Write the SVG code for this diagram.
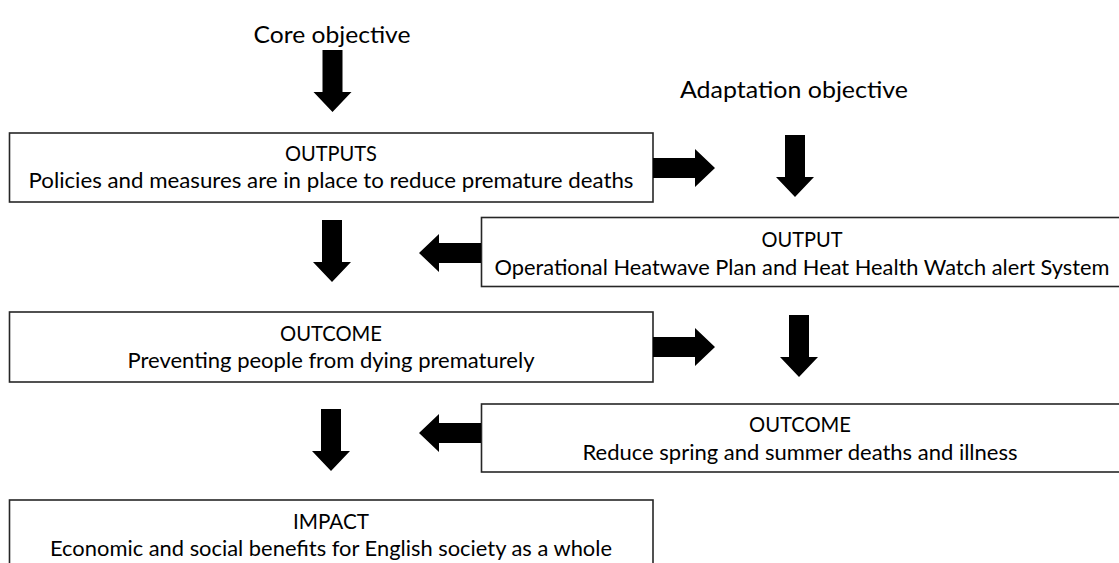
<svg xmlns="http://www.w3.org/2000/svg" xmlns:xlink="http://www.w3.org/1999/xlink" width="1119" height="563" viewBox="0 0 1119 563">
  <style>
    .box { fill: #ffffff; stroke: #262626; stroke-width: 1.6; }
    .title { font-family: Lato, "Liberation Sans", sans-serif; font-size: 24px; fill: #000; text-anchor: middle; }
    .label { font-family: Lato, "Liberation Sans", sans-serif; font-size: 21.5px; fill: #000; text-anchor: middle; }
    .arrow { fill: #000; }
  </style>
  <defs>
    <!-- block arrow pointing down, origin at the middle of the tail -->
    <path id="blockArrow" d="M-10,0 H10 V42 H19 L0,62 L-19,42 H-10 Z"/>
  </defs>

  <rect width="1119" height="563" fill="#ffffff"/>

  <!-- column headings -->
  <g id="core-objective">
    <text class="title" x="332" y="43" textLength="157" lengthAdjust="spacingAndGlyphs">Core objective</text>
  </g>
  <g id="adaptation-objective">
    <text class="title" x="794" y="98" textLength="228" lengthAdjust="spacingAndGlyphs">Adaptation objective</text>
  </g>

  <!-- core column -->
  <g id="outputs">
    <rect class="box" x="9.5" y="133" width="643.5" height="69"/>
    <text class="label" x="331" y="161" textLength="92" lengthAdjust="spacingAndGlyphs">OUTPUTS</text>
    <text class="label" x="331" y="188" textLength="605" lengthAdjust="spacingAndGlyphs">Policies and measures are in place to reduce premature deaths</text>
  </g>
  <g id="outcome-core">
    <rect class="box" x="9.5" y="312" width="643.5" height="70"/>
    <text class="label" x="331" y="341" textLength="102" lengthAdjust="spacingAndGlyphs">OUTCOME</text>
    <text class="label" x="331" y="368" textLength="407" lengthAdjust="spacingAndGlyphs">Preventing people from dying prematurely</text>
  </g>
  <g id="impact">
    <rect class="box" x="9.5" y="500" width="643.5" height="80"/>
    <text class="label" x="331" y="529" textLength="76" lengthAdjust="spacingAndGlyphs">IMPACT</text>
    <text class="label" x="331" y="556" textLength="562" lengthAdjust="spacingAndGlyphs">Economic and social benefits for English society as a whole</text>
  </g>

  <!-- adaptation column -->
  <g id="output-adaptation">
    <rect class="box" x="481.5" y="217.5" width="645" height="69"/>
    <text class="label" x="802" y="247" textLength="81" lengthAdjust="spacingAndGlyphs">OUTPUT</text>
    <text class="label" x="802" y="275" textLength="615" lengthAdjust="spacingAndGlyphs">Operational Heatwave Plan and Heat Health Watch alert System</text>
  </g>
  <g id="outcome-adaptation">
    <rect class="box" x="481.5" y="404" width="645" height="68"/>
    <text class="label" x="800" y="432" textLength="102" lengthAdjust="spacingAndGlyphs">OUTCOME</text>
    <text class="label" x="800" y="460" textLength="435" lengthAdjust="spacingAndGlyphs">Reduce spring and summer deaths and illness</text>
  </g>

  <!-- block arrows -->
  <g id="connectors" class="arrow">
    <use xlink:href="#blockArrow" href="#blockArrow" transform="translate(332.5,50)"/>
    <use xlink:href="#blockArrow" href="#blockArrow" transform="translate(795,135)"/>
    <use xlink:href="#blockArrow" href="#blockArrow" transform="translate(653,168) rotate(-90)"/>
    <use xlink:href="#blockArrow" href="#blockArrow" transform="translate(481,253) rotate(90)"/>
    <use xlink:href="#blockArrow" href="#blockArrow" transform="translate(332,220)"/>
    <use xlink:href="#blockArrow" href="#blockArrow" transform="translate(653,347) rotate(-90)"/>
    <use xlink:href="#blockArrow" href="#blockArrow" transform="translate(799,315)"/>
    <use xlink:href="#blockArrow" href="#blockArrow" transform="translate(481,433) rotate(90)"/>
    <use xlink:href="#blockArrow" href="#blockArrow" transform="translate(331,409)"/>
  </g>
</svg>
